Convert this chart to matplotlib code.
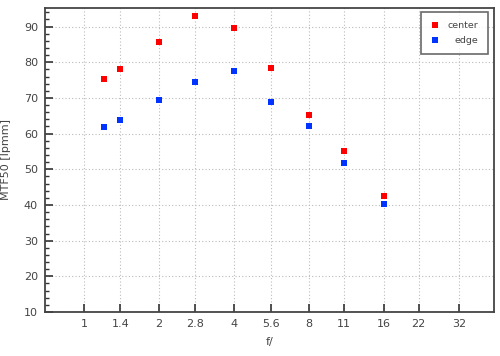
import matplotlib
matplotlib.use("Agg")
import matplotlib.pyplot as plt
from matplotlib.ticker import FixedLocator, FixedFormatter, MultipleLocator, NullLocator

fstops = [1.2, 1.4, 2, 2.8, 4, 5.6, 8, 11, 16]
center = [75.3, 78.2, 85.8, 93.0, 89.6, 78.5, 65.3, 55.0, 42.4]
edge = [61.9, 63.9, 69.3, 74.6, 77.5, 68.9, 62.2, 51.7, 40.2]
xticks = [1, 1.4, 2, 2.8, 4, 5.6, 8, 11, 16, 22, 32]
xticklabels = ["1", "1.4", "2", "2.8", "4", "5.6", "8", "11", "16", "22", "32"]
yticks = [10, 20, 30, 40, 50, 60, 70, 80, 90]

plt.rcParams['font.family'] = ['DejaVu Sans']
fig = plt.figure(figsize=(5, 3.56), dpi=100)
ax = fig.add_axes([45/500, 1-312/356, (494-45)/500, (312-8)/356])

ax.plot(fstops, center, 's', color='#ff0000', markersize=4.6, label='center', markeredgewidth=0)
ax.plot(fstops, edge, 's', color='#0033ff', markersize=4.6, label='edge', markeredgewidth=0)

ax.set_xscale('log')
ax.set_xlim(0.698, 44.1)
ax.set_ylim(10, 95.2)
ax.xaxis.set_major_locator(FixedLocator(xticks))
ax.xaxis.set_major_formatter(FixedFormatter(xticklabels))
ax.xaxis.set_minor_locator(NullLocator())
ax.yaxis.set_major_locator(FixedLocator(yticks))
ax.yaxis.set_minor_locator(MultipleLocator(2))

tc = '#444444'
ax.tick_params(axis='both', which='major', direction='in', length=6, width=1.2, color='#333333',
               labelsize=8, labelcolor=tc, pad=5)
ax.tick_params(axis='y', which='minor', direction='in', length=3, width=1.0, color='#333333')
ax.tick_params(top=False, right=False)
for s in ax.spines.values():
    s.set_color('#444444')
    s.set_linewidth(1.3)

ax.grid(True, which='major', linestyle=(0, (1, 2)), color='#bbbbbb', linewidth=0.8)

ax.set_xlabel('f/', fontsize=8, color=tc, labelpad=6)
ax.set_ylabel('MTF50 [lpmm]', fontsize=8, color=tc, labelpad=9)

leg = ax.legend(loc='upper right', bbox_to_anchor=(488/500, 1-11.7/356),
                bbox_transform=fig.transFigure, borderaxespad=0,
                fontsize=6.8, frameon=True, fancybox=False, edgecolor='#444444',
                handlelength=0.8, handletextpad=1.0, borderpad=1.0, labelspacing=0.6,
                markerfirst=True)
leg.get_frame().set_linewidth(1.2)
for t in leg.get_texts():
    t.set_color(tc)
fig.canvas.draw()
renderer = fig.canvas.get_renderer()
widths = [t.get_window_extent(renderer).width for t in leg.get_texts()]
mw = max(widths)
for t, w in zip(leg.get_texts(), widths):
    t.set_position((mw - w, 0))

fig.savefig('out.png', dpi=100)
